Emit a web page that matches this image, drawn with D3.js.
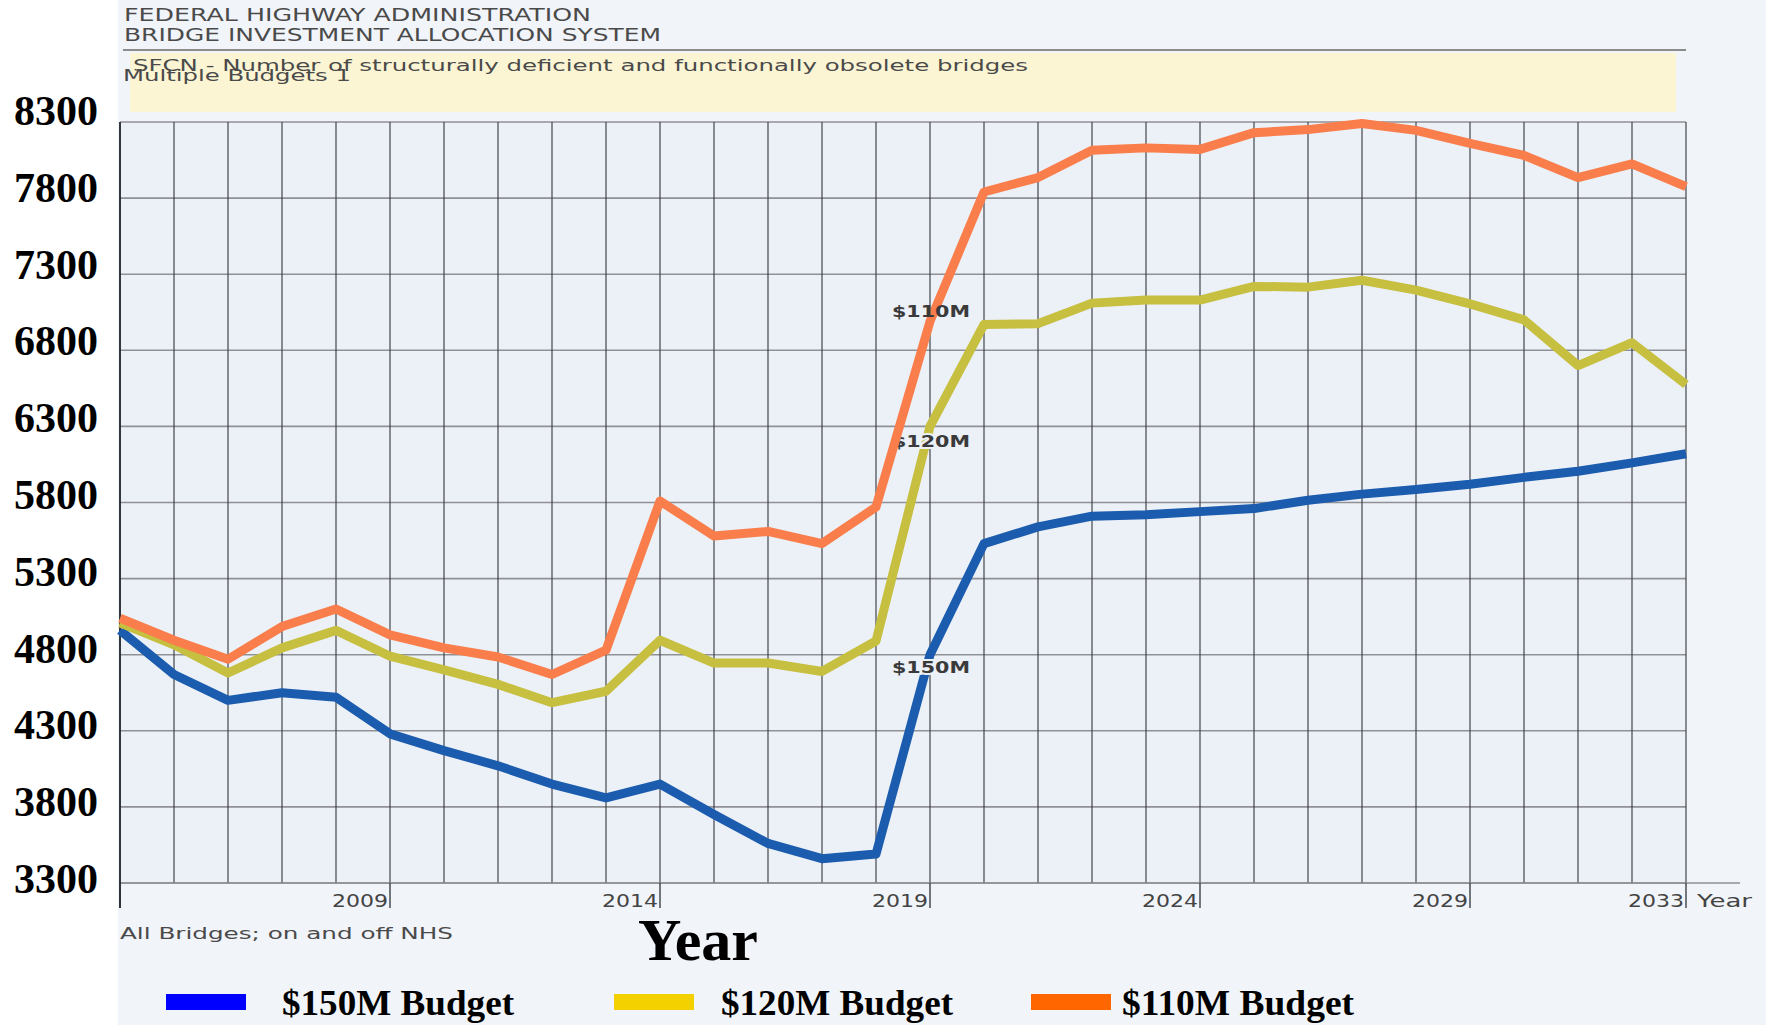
<!DOCTYPE html>
<html>
<head>
<meta charset="utf-8">
<script src="https://d3js.org/d3.v7.min.js"></script>
<style>
body { margin:0; background:#fff; }
</style>
</head>
<body>
<div id="chart"></div>
<script>
////////////////////////////////////////////////////
// data read off the BIAS print-out
////////////////////////////////////////////////////
var years = d3.range(2004, 2034);
var budget150 = [4960,4670,4500,4550,4520,4280,4170,4070,3950,3860,3950,3750,3560,3460,3490,
	4800,5530,5640,5710,5720,5740,5760,5815,5855,5885,5920,5965,6005,6060,6120];
var budget120 = [5010,4865,4680,4845,4960,4790,4700,4605,4485,4560,4895,4745,4745,4690,4890,
	6300,6970,6975,7110,7130,7130,7220,7215,7260,7195,7105,7000,6700,6850,6575];
var budget110 = [5040,4895,4770,4985,5100,4930,4845,4785,4670,4830,5810,5580,5610,5530,5770,
	6990,7840,7935,8115,8130,8120,8230,8250,8290,8245,8160,8080,7935,8025,7875];
var yTicks = [3300,3800,4300,4800,5300,5800,6300,6800,7300,7800,8300];
var xTickYears = [2009,2014,2019,2024,2029,2033];
var legendNames = ["$150M Budget","$120M Budget","$110M Budget"];
var legendColors = ["#0000ff","#f3d100","#ff6600"];
var lineLabels = ["$150M","$120M","$110M"];
////////////////////////////////////////////////////

function buildBiasChart(theId) {
	var W = 1766, H = 1025;
	var sans = "'DejaVu Sans', Verdana, sans-serif";
	var serif = "'Liberation Serif', 'Times New Roman', serif";

	var x = d3.scaleLinear().domain([2004, 2033]).range([120, 1686]);
	var y = d3.scaleLinear().domain([3300, 8300]).range([883, 122]);

	var svg = d3.select("#"+theId).append("svg:svg")
		.attr("width", W)
		.attr("height", H);

	// scanned page background
	svg.append("svg:rect")
		.attr("x", 118).attr("y", 0)
		.attr("width", W-118).attr("height", H)
		.attr("fill", "#f1f4f9");
	svg.append("svg:rect")
		.attr("x", x(2004)).attr("y", y(8300))
		.attr("width", x(2033)-x(2004)).attr("height", y(3300)-y(8300))
		.attr("fill", "#ecf0f7");

	// header
	svg.append("svg:line")
		.attr("x1", 123).attr("x2", 1686)
		.attr("y1", 50).attr("y2", 50)
		.attr("stroke", "#8c8c8c").attr("stroke-width", 2);
	svg.append("svg:rect")
		.attr("x", 130).attr("y", 53)
		.attr("width", 1546).attr("height", 59)
		.attr("fill", "#fbf5d4");
	var head = svg.append("svg:g").attr("fill", "#4a4a4a").attr("font-family", sans);
	head.append("svg:text")
		.attr("x", 124).attr("y", 21)
		.attr("font-size", 17)
		.attr("textLength", 467).attr("lengthAdjust", "spacingAndGlyphs")
		.text("FEDERAL HIGHWAY ADMINISTRATION");
	head.append("svg:text")
		.attr("x", 124).attr("y", 41)
		.attr("font-size", 17)
		.attr("textLength", 537).attr("lengthAdjust", "spacingAndGlyphs")
		.text("BRIDGE INVESTMENT ALLOCATION SYSTEM");
	head.append("svg:text")
		.attr("x", 133).attr("y", 71)
		.attr("font-size", 16)
		.attr("textLength", 895).attr("lengthAdjust", "spacingAndGlyphs")
		.text("SFCN - Number of structurally deficient and functionally obsolete bridges");
	head.append("svg:text")
		.attr("x", 123).attr("y", 81)
		.attr("font-size", 16)
		.attr("textLength", 228).attr("lengthAdjust", "spacingAndGlyphs")
		.text("Multiple Budgets 1");

	// grid
	var grid = svg.append("svg:g");
	grid.selectAll("hLines")
		.data(yTicks)
		.enter().append("svg:line")
			.attr("x1", x(2004)).attr("x2", x(2033))
			.attr("y1", function(d){return y(d);})
			.attr("y2", function(d){return y(d);})
			.attr("stroke", "#8f9194")
			.attr("stroke-width", 1.6);
	grid.selectAll("vLines")
		.data(years)
		.enter().append("svg:line")
			.attr("x1", function(d){return x(d);})
			.attr("x2", function(d){return x(d);})
			.attr("y1", y(8300)).attr("y2", y(3300))
			.attr("stroke", "#33383d")
			.attr("stroke-width", 1.1);

	// x axis
	var axisG = svg.append("svg:g")
		.attr("transform", "translate(0,"+y(3300)+")");
	axisG.append("svg:line")
		.attr("x1", x(2004)).attr("x2", 1740)
		.attr("y1", 0).attr("y2", 0)
		.attr("stroke", "#8f9194").attr("stroke-width", 1.6);
	axisG.selectAll("ticks")
		.data([2004].concat(xTickYears))
		.enter().append("svg:line")
			.attr("x1", function(d){return x(d);})
			.attr("x2", function(d){return x(d);})
			.attr("y1", 0).attr("y2", 25)
			.attr("stroke", "#2e3338").attr("stroke-width", 1.3);
	axisG.selectAll("tickLabels")
		.data(xTickYears)
		.enter().append("svg:text")
			.attr("x", function(d){return x(d)-58;})
			.attr("y", 24)
			.attr("font-family", sans)
			.attr("font-size", 17)
			.attr("fill", "#444")
			.attr("textLength", 56).attr("lengthAdjust", "spacingAndGlyphs")
			.text(function(d){return d;});
	axisG.append("svg:text")
		.attr("x", 1697).attr("y", 24)
		.attr("font-family", sans).attr("font-size", 17).attr("fill", "#444")
		.attr("textLength", 55).attr("lengthAdjust", "spacingAndGlyphs")
		.text("Year");
	svg.append("svg:line")
		.attr("x1", x(2004)).attr("x2", x(2004))
		.attr("y1", y(8300)).attr("y2", y(3300)+25)
		.attr("stroke", "#1e2226").attr("stroke-width", 1.6);

	svg.append("svg:text")
		.attr("x", 120).attr("y", 939)
		.attr("font-family", sans).attr("font-size", 16).attr("fill", "#4a4a4a")
		.attr("textLength", 333).attr("lengthAdjust", "spacingAndGlyphs")
		.text("All Bridges; on and off NHS");

	// y labels
	svg.selectAll("yLabels")
		.data(yTicks)
		.enter().append("svg:text")
			.attr("x", 98)
			.attr("y", function(d){return y(d)+3+(8300-d)/5000*7;})
			.attr("text-anchor", "end")
			.attr("font-family", serif)
			.attr("font-weight", "bold")
			.attr("font-size", 42)
			.attr("fill", "#000")
			.text(function(d){return d;});

	// lines
	var line = d3.line()
		.x(function(d,i){return x(years[i]);})
		.y(function(d){return y(d);});
	var drawSeries = function(values, color) {
		svg.append("svg:path")
			.attr("d", line(values))
			.attr("fill", "none")
			.attr("stroke", color)
			.attr("stroke-width", 9)
			.attr("stroke-linejoin", "round");
	};
	var drawLabel = function(txt, yy, halo) {
		svg.append("svg:text")
			.attr("x", 892).attr("y", yy)
			.attr("font-family", sans)
			.attr("font-weight", "bold")
			.attr("font-size", 16)
			.attr("fill", "#3a3a3a")
			.attr("stroke", halo ? "#ecf0f7" : "none")
			.attr("stroke-width", halo ? 4 : 0)
			.attr("paint-order", "stroke")
			.attr("textLength", 78).attr("lengthAdjust", "spacingAndGlyphs")
			.text(txt);
	};
	drawSeries(budget150, "#1b5cae");
	drawSeries(budget120, "#c6bf3f");
	drawLabel(lineLabels[0], 673, true);
	drawLabel(lineLabels[1], 447, true);
	drawSeries(budget110, "#fa7e4b");
	drawLabel(lineLabels[2], 317, false);

	// big axis title and legend
	svg.append("svg:text")
		.attr("x", 698).attr("y", 960)
		.attr("text-anchor", "middle")
		.attr("font-family", serif).attr("font-weight", "bold")
		.attr("font-size", 60).attr("fill", "#000")
		.text("Year");

	var legRectX = [166, 614, 1031];
	var legTextX = [282, 721, 1122];
	var leg = svg.selectAll("legend")
		.data(legendNames)
		.enter().append("svg:g");
	leg.append("svg:rect")
		.attr("x", function(d,i){return legRectX[i];}).attr("y", 994)
		.attr("width", 80).attr("height", 16)
		.attr("fill", function(d,i){return legendColors[i];});
	leg.append("svg:text")
		.attr("x", function(d,i){return legTextX[i];}).attr("y", 1015)
		.attr("font-family", serif).attr("font-weight", "bold")
		.attr("font-size", 36).attr("fill", "#000")
		.attr("textLength", 232).attr("lengthAdjust", "spacingAndGlyphs")
		.text(function(d){return d;});
};
////////////////////////////////////////////////////

buildBiasChart("chart");
</script>
</body>
</html>
